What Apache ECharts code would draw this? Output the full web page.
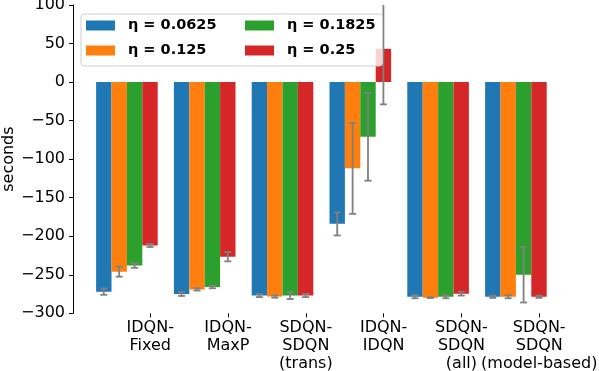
<!DOCTYPE html>
<html>
<head>
<meta charset="utf-8">
<script src="https://cdn.jsdelivr.net/npm/echarts@6/dist/echarts.min.js"></script>
<style>
  html, body { margin: 0; padding: 0; background: #fff; }
  #main { width: 599px; height: 371px; }
</style>
</head>
<body>
<div id="main"></div>
<script>
const categories = ['IDQN-\nFixed', 'IDQN-\nMaxP', 'SDQN-\nSDQN\n(trans)', 'IDQN-\nIDQN', 'SDQN-\nSDQN\n(all)', 'SDQN-\nSDQN\n(model-based)'];
const seriesNames = ['η = 0.0625', 'η = 0.125', 'η = 0.1825', 'η = 0.25'];
const colors = ['#1f77b4', '#ff7f0e', '#2ca02c', '#d62728'];

// mean values (seconds)
const eta0625 = [-272, -275, -277, -184, -278.5, -278.5];
const eta125 = [-246, -269, -278.3, -112, -279.7, -278.5];
const eta1825 = [-238, -266, -277, -71, -278.5, -250];
const eta25 = [-212, -226.6, -277, 43, -274.5, -278.5];

// error bar half lengths
const err0625 = [4, 2.5, 2, 15, 2, 1.5];
const err125 = [6.5, 1.5, 1.5, 59, 0.5, 2];
const err1825 = [3, 1.5, 4.5, 57, 2, 36];
const err25 = [2, 6, 2, 72, 2.5, 1.5];

const yTicks = [-300, -250, -200, -150, -100, -50, 0, 50, 100];

const means = [eta0625, eta125, eta1825, eta25];
const errs = [err0625, err125, err1825, err25];
const yMin = yTicks[0];
const yMax = yTicks[yTicks.length - 1];
const barW = 15.4;
const tickShift = 0.3; // tick labels sit under the last bar of each group

const chart = echarts.init(document.getElementById('main'), null, { renderer: 'canvas' });

let errData = [];
for (let s = 0; s < means.length; s++) {
  for (let i = 0; i < categories.length; i++) {
    errData.push([i, s, means[s][i] - errs[s][i], means[s][i] + errs[s][i]]);
  }
}

function renderErrorBar (params, api) {
  const ci = api.value(0);
  const si = api.value(1);
  const rawHi = api.value(3);
  const lo = Math.max(api.value(2), yMin);
  const hi = Math.min(rawHi, yMax);
  const x = api.coord([ci, 0])[0] + (si - 1.5) * barW;
  const top = api.coord([ci, hi])[1];
  const bot = api.coord([ci, lo])[1];
  const style = { stroke: '#808080', lineWidth: 1.8 };
  const children = [
    { type: 'line', shape: { x1: x, y1: top, x2: x, y2: bot }, style: style },
    { type: 'line', shape: { x1: x - 3.5, y1: bot, x2: x + 3.5, y2: bot }, style: style }
  ];
  if (rawHi <= yMax) {
    children.push({ type: 'line', shape: { x1: x - 3.5, y1: top, x2: x + 3.5, y2: top }, style: style });
  }
  return { type: 'group', children: children };
}

let series = means.map(function (vals, s) {
  return {
    name: seriesNames[s],
    type: 'bar',
    xAxisIndex: 0,
    barWidth: barW,
    barGap: '0%',
    itemStyle: { color: colors[s] },
    data: vals
  };
});
series.push({
  type: 'custom',
  xAxisIndex: 0,
  z: 3,
  renderItem: renderErrorBar,
  encode: { x: 0, y: [2, 3] },
  data: errData
});

const tickPos = categories.map(function (c, i) { return i + tickShift; });

// label axes: the last label is put on its own axis so the wide
// "(model-based)" line does not knock out its neighbour
function labelAxis (values, showTicks) {
  return {
    type: 'value',
    position: 'bottom',
    min: -0.5,
    max: 5.5,
    axisLine: { show: false, onZero: false },
    splitLine: { show: false },
    axisTick: {
      show: showTicks,
      length: 4,
      lineStyle: { color: '#000' },
      customValues: tickPos
    },
    axisLabel: {
      color: '#000',
      fontSize: 16,
      lineHeight: 18,
      margin: 6,
      hideOverlap: false,
      customValues: values,
      formatter: function (v) {
        return categories[Math.round(v - tickShift)];
      }
    }
  };
}

const option = {
  animation: false,
  textStyle: { fontFamily: 'DejaVu Sans' },
  color: colors,
  grid: {
    left: 88,
    top: 4.9,
    width: 466.8,
    bottom: 57.7,
    containLabel: false,
    outerBoundsMode: 'none'
  },
  legend: {
    data: [seriesNames[0], seriesNames[2], seriesNames[1], seriesNames[3]],
    left: 81,
    top: 14,
    width: 312,
    z: 10,
    padding: [4, 7, 8, 5],
    itemGap: 10,
    itemWidth: 29,
    itemHeight: 10,
    icon: 'rect',
    selectedMode: false,
    backgroundColor: 'rgba(255,255,255,0.8)',
    borderColor: '#cccccc',
    borderWidth: 1,
    borderRadius: 3,
    formatter: function (name) {
      const idx = seriesNames.indexOf(name);
      return idx < 2 ? '{a|' + name + '}' : '{b|' + name + '}';
    },
    textStyle: {
      color: '#000',
      fontSize: 14.5,
      fontWeight: 'bold',
      lineHeight: 14.4,
      rich: {
        a: { width: 107, padding: [0, 0, 0, 8], fontSize: 14.5, fontWeight: 'bold', lineHeight: 14.4 },
        b: { width: 86, padding: [0, 0, 0, 8], fontSize: 14.5, fontWeight: 'bold', lineHeight: 14.4 }
      }
    }
  },
  xAxis: [
    { type: 'category', show: false, data: categories },
    labelAxis(tickPos.slice(0, 5), true),
    labelAxis(tickPos.slice(5), false)
  ],
  yAxis: {
    type: 'value',
    min: yMin,
    max: yMax,
    interval: 50,
    offset: 15,
    name: 'seconds',
    nameLocation: 'middle',
    nameGap: 56,
    nameMoveOverlap: false,
    nameTextStyle: { color: '#000', fontSize: 16 },
    axisLine: { show: true, onZero: false, lineStyle: { color: '#000', width: 1 } },
    axisTick: { show: true, length: 4, lineStyle: { color: '#000' } },
    splitLine: { show: false },
    axisLabel: {
      color: '#000',
      fontSize: 16,
      margin: 8,
      formatter: function (v) {
        return v < 0 ? '\u2212' + Math.abs(v) : String(v);
      }
    }
  },
  series: series
};

chart.setOption(option);
</script>
</body>
</html>
